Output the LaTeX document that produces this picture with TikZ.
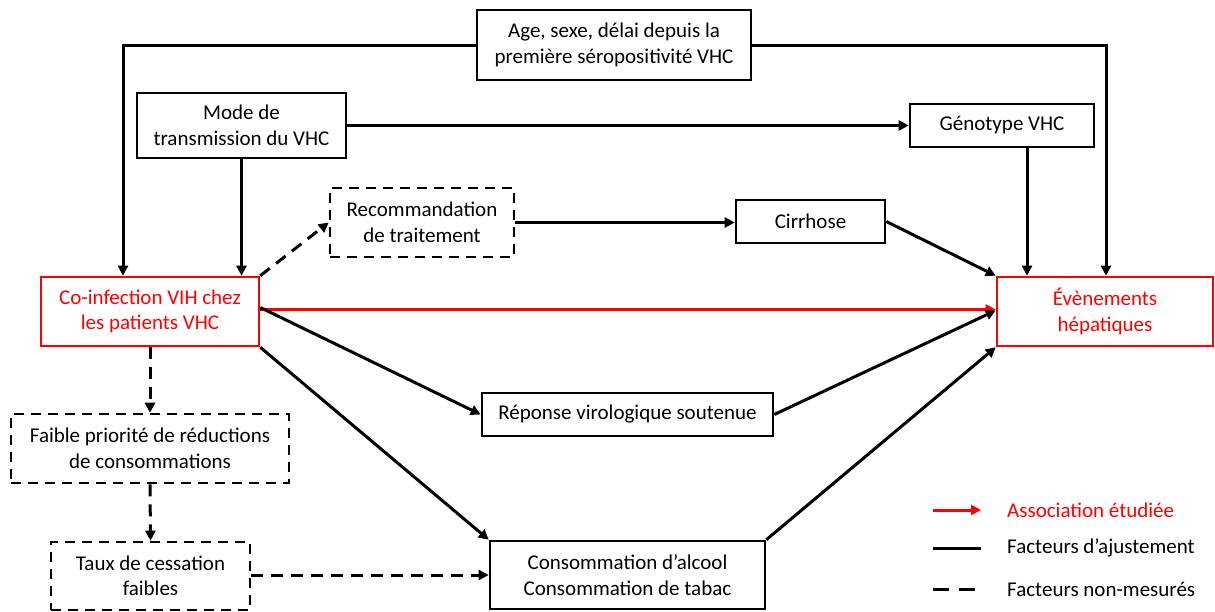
\documentclass[tikz,border=0pt]{standalone}
\usepackage{fontspec}
\setmainfont{Carlito}
\usetikzlibrary{arrows.meta,calc}
\definecolor{myred}{RGB}{255,0,0}
\tikzset{
  box/.style={draw=black, line width=2.6pt, align=center, inner sep=2pt,
    font=\fontsize{21}{25.5}\selectfont, text=black},
  redbox/.style={box, draw=myred, text=myred},
  dbox/.style={box, dash pattern=on 10pt off 7pt},
  conn/.style={line width=3pt, -{Triangle[length=10pt,width=10pt]}},
  dconn/.style={conn, dash pattern=on 12pt off 8pt},
  rconn/.style={conn, draw=myred, color=myred},
  legtext/.style={anchor=west, font=\fontsize{21}{25.5}\selectfont, inner sep=0pt}
}
\begin{document}
\begin{tikzpicture}[x=1pt,y=-1pt]
\useasboundingbox (0,0) rectangle (1215,611);
\node[box, minimum width=274pt, minimum height=70pt] (age) at (614,45) {Age, sexe, délai depuis la\\première séropositivité VHC};
\node[box, minimum width=209pt, minimum height=65pt] (mode) at (241.5,125.5) {Mode de\\transmission du VHC};
\node[box, minimum width=184pt, minimum height=43pt] (geno) at (1002,125.5) {Génotype VHC};
\node[dbox, minimum width=184pt, minimum height=69pt] (recom) at (422,222.5) {Recommandation\\de traitement};
\node[box, minimum width=149pt, minimum height=43pt] (cirr) at (810.5,221.5) {Cirrhose};
\node[redbox, minimum width=218pt, minimum height=69pt] (coinf) at (150,311.5) {Co-infection VIH chez\\les patients VHC};
\node[redbox, minimum width=216pt, minimum height=69pt] (ev) at (1105,311.5) {Évènements\\hépatiques};
\node[box, minimum width=291pt, minimum height=43pt] (rep) at (627.5,414.5) {Réponse virologique soutenue};
\node[box, minimum width=275pt, minimum height=68pt] (conso) at (627.5,575) {Consommation d’alcool\\Consommation de tabac};
\node[dbox, minimum width=278pt, minimum height=69pt] (faible) at (150,448.5) {Faible priorité de réductions\\de consommations};
\node[dbox, minimum width=199pt, minimum height=68pt] (taux) at (150.5,576) {Taux de cessation\\faibles};

% connectors
\draw[conn] (age.west) -| ([xshift=-27pt]coinf.north);
\draw[conn] (age.east) -| ([xshift=1pt]ev.north);
\draw[conn] (mode.south) -- (mode.south |- coinf.north);
\draw[conn] (mode.east) -- (geno.west);
\draw[conn] ([xshift=25pt]geno.south) -- ([xshift=25pt]geno.south |- ev.north);
\draw[dconn] (coinf.north east) -- (recom.west);
\draw[conn] (recom.east) -- (recom.east -| cirr.west);
\draw[conn] (cirr.east) -- (ev.north west);
\draw[rconn] ([yshift=2pt]coinf.east) -- ([yshift=2pt]ev.west);
\draw[conn] ([yshift=4pt]coinf.east) -- (rep.west);
\draw[conn] (rep.east) -- ([yshift=1pt]ev.west);
\draw[conn] (coinf.south east) -- (conso.north west);
\draw[conn] (conso.north east) -- (ev.south west);
\draw[dconn] (coinf.south) -- (faible.north);
\draw[dconn] (faible.south) -- (taux.north);
\draw[dconn] ([yshift=1pt]taux.east) -- ([yshift=1pt]taux.east -| conso.west);

% legend
\coordinate (l1a) at (933,510); \coordinate (l1b) at (981,510);
\coordinate (l2a) at (933,548); \coordinate (l2b) at (981,548);
\coordinate (l3a) at (933,589); \coordinate (l3b) at (981,589);
\draw[rconn] (l1a) -- (l1b);
\draw[line width=3pt] (l2a) -- (l2b);
\draw[line width=3pt, dash pattern=on 16pt off 10pt] (l3a) -- (l3b);
\node[legtext, text=myred] (lt1) at (1007,510) {Association étudiée};
\node[legtext] (lt2) at (1007,548) {Facteurs d’ajustement};
\node[legtext] (lt3) at (1007,589) {Facteurs non-mesurés};
\end{tikzpicture}
\end{document}
